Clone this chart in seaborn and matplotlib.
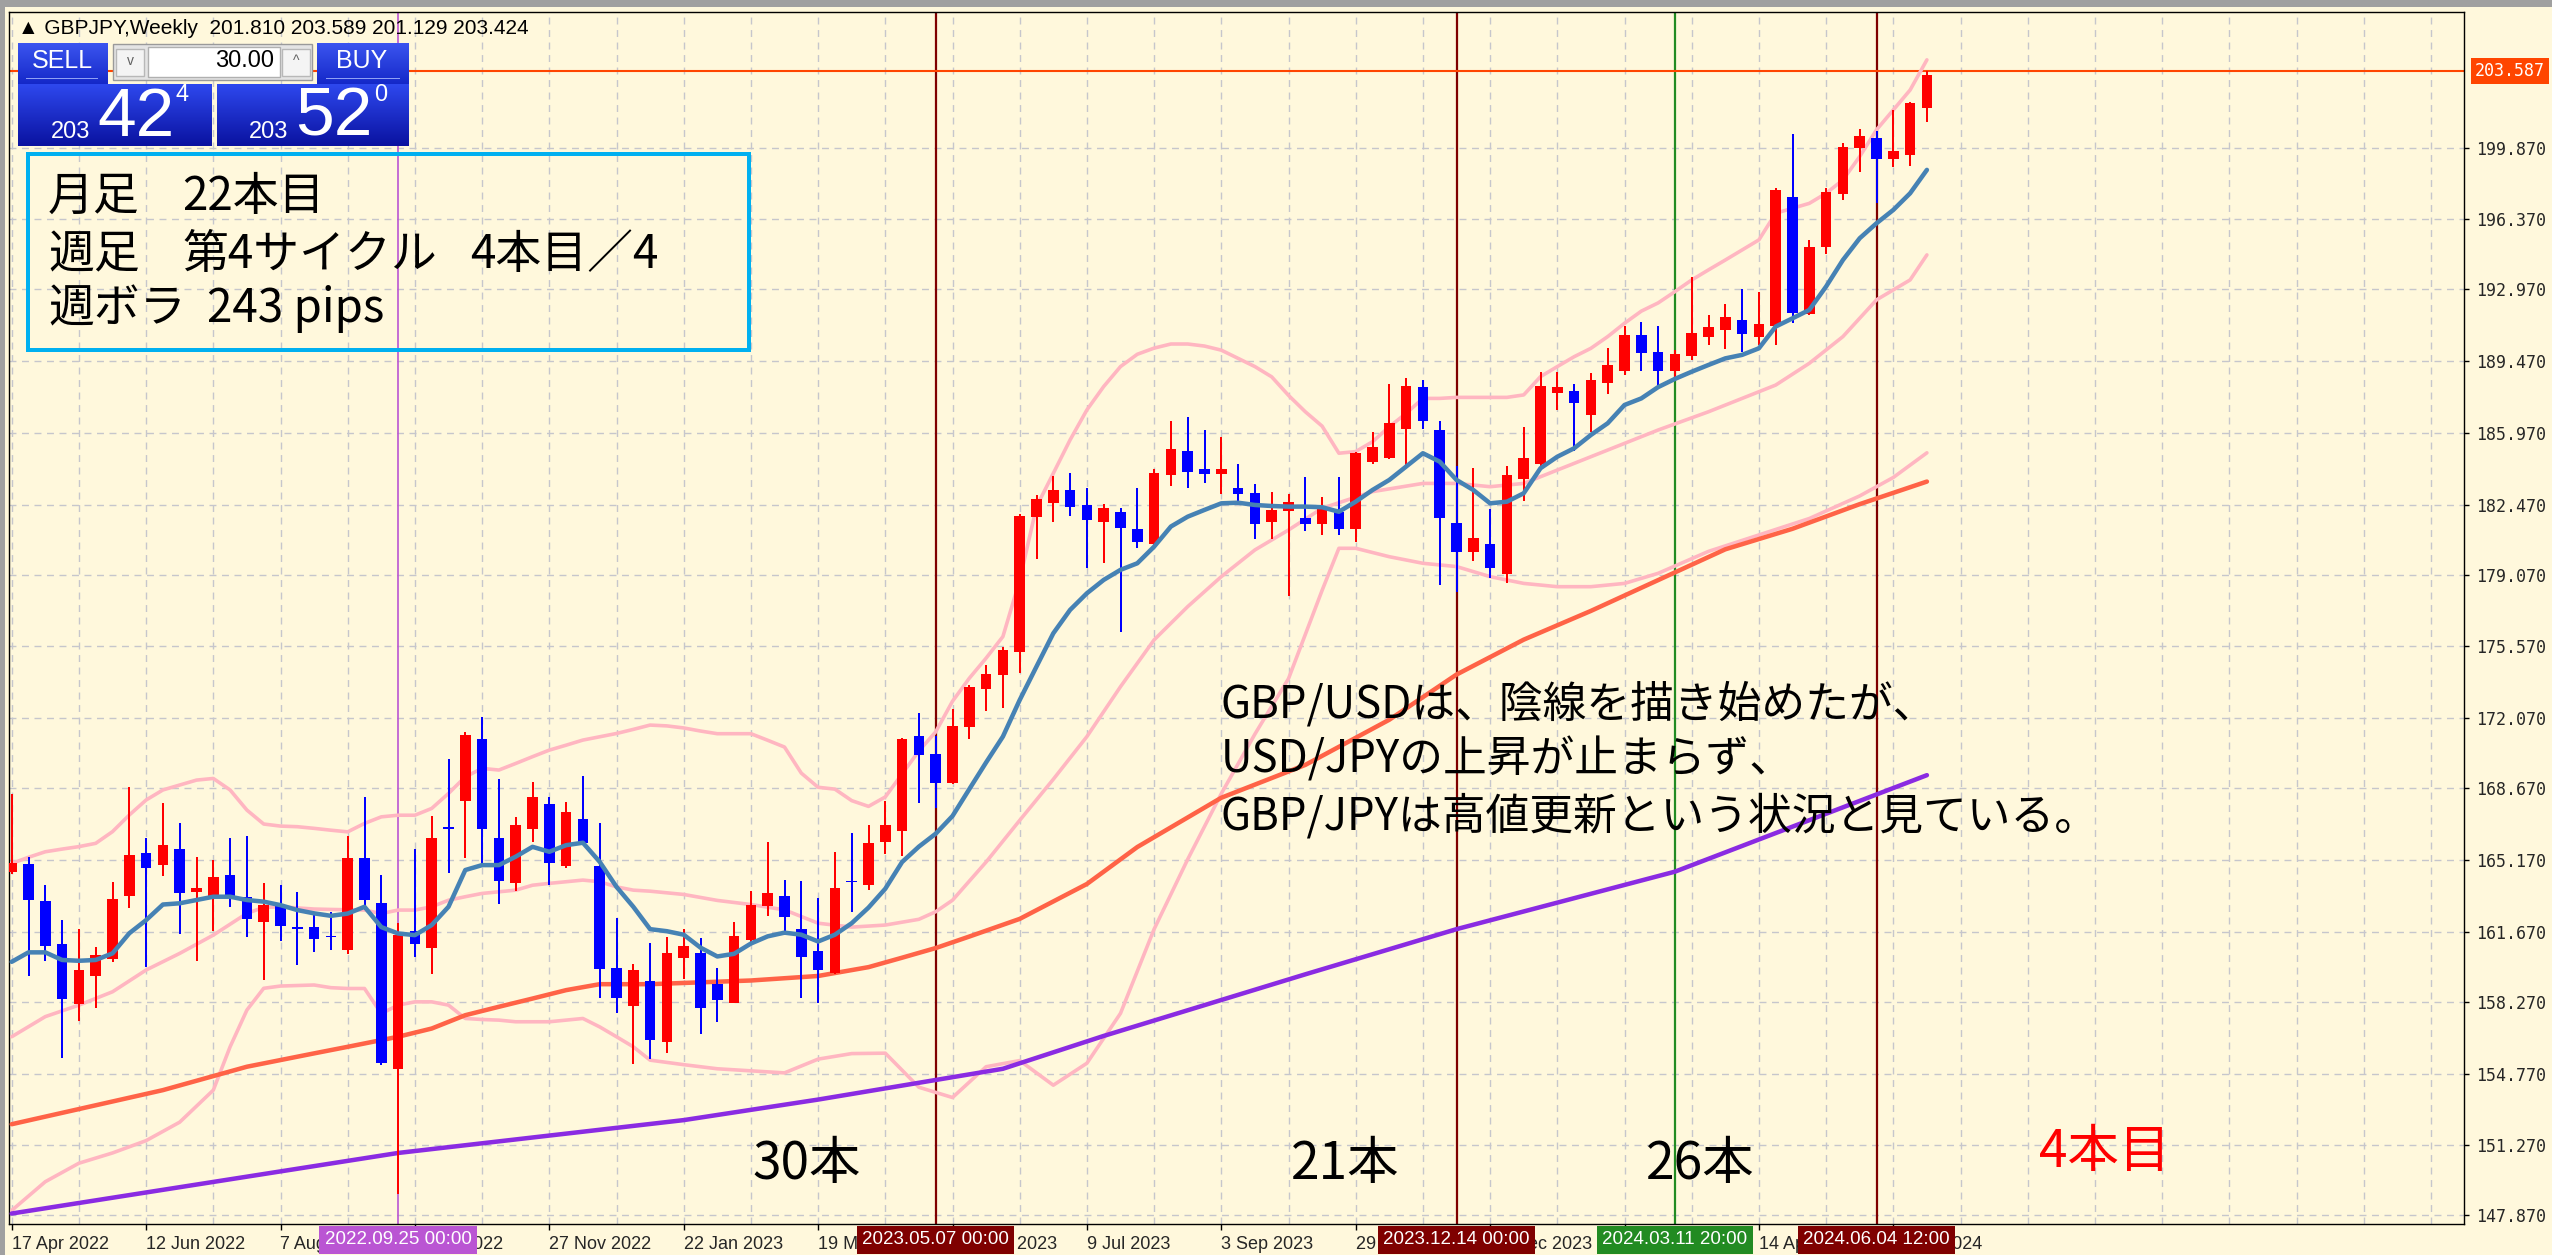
import numpy as np
import matplotlib
matplotlib.use("Agg")
import matplotlib.pyplot as plt
import matplotlib.transforms as mtransforms
from matplotlib.patches import Rectangle
from matplotlib import font_manager
import seaborn as sns

# ---------------- data ----------------
open_ = [164.6, 164.97, 163.19, 161.06, 158.15, 159.52, 160.33, 163.41, 165.49, 164.91,
         165.70, 163.62, 163.41, 164.44, 163.38, 162.16, 162.97, 161.90, 161.92, 161.48,
         160.78, 165.28, 163.08, 155.01, 161.72, 160.89, 166.78, 168.05, 171.06, 166.22,
         164.06, 166.67, 167.92, 164.89, 167.18, 164.87, 159.93, 158.05, 159.28, 156.30,
         160.38, 160.66, 159.15, 158.21, 161.25, 162.93, 163.40, 161.81, 160.75, 159.67,
         164.14, 163.96, 166.06, 166.60, 171.19, 170.33, 168.90, 171.64, 173.52, 174.18,
         175.32, 181.86, 182.58, 183.19, 182.45, 181.63, 182.12, 181.28, 180.55, 183.92,
         185.09, 184.23, 183.96, 183.27, 183.06, 181.63, 182.19, 181.81, 181.54, 182.13,
         181.29, 184.54, 184.73, 186.14, 188.22, 186.11, 181.60, 180.15, 180.54, 179.10,
         183.73, 184.44, 187.93, 188.03, 186.84, 188.39, 188.99, 190.74, 189.90, 189.00,
         189.72, 190.66, 190.98, 191.47, 190.66, 191.18, 197.48, 191.76, 195.01, 197.61,
         199.83, 200.32, 199.31, 199.51, 201.81]
high = [168.40, 165.30, 163.93, 162.24, 161.81, 160.95, 164.11, 168.74, 166.22, 167.93,
        166.95, 165.30, 165.17, 166.24, 166.34, 164.03, 163.93, 163.59, 162.65, 162.65,
        166.33, 168.25, 164.43, 162.11, 165.70, 167.31, 170.11, 171.38, 172.11, 169.09,
        167.27, 168.98, 168.25, 168.00, 169.27, 166.95, 162.32, 160.10, 161.15, 161.44,
        161.81, 161.38, 159.91, 162.13, 163.68, 166.04, 164.20, 164.14, 163.30, 165.54,
        166.47, 166.85, 168.06, 171.13, 172.35, 171.23, 172.53, 173.69, 174.68, 175.56,
        182.01, 182.95, 183.89, 184.00, 183.27, 182.51, 182.30, 183.27, 184.20, 186.55,
        186.76, 186.11, 185.79, 184.44, 183.48, 183.08, 182.98, 183.81, 182.87, 183.84,
        185.06, 186.03, 188.35, 188.63, 188.55, 186.55, 184.37, 184.24, 182.25, 184.37,
        186.24, 188.95, 188.95, 188.34, 188.87, 190.12, 191.18, 191.39, 191.18, 190.01,
        193.58, 191.72, 192.23, 192.97, 192.85, 197.88, 200.52, 195.37, 197.88, 200.11,
        200.76, 200.65, 201.70, 202.11, 203.589]
low = [164.50, 159.52, 160.26, 155.54, 157.34, 157.94, 160.20, 162.81, 159.97, 164.39,
       161.55, 160.26, 161.72, 162.89, 161.43, 159.32, 161.22, 160.05, 160.67, 160.78,
       160.58, 162.73, 155.20, 148.90, 160.45, 159.61, 164.55, 165.29, 165.00, 163.02,
       163.67, 166.06, 163.94, 164.80, 165.97, 158.47, 157.73, 155.23, 155.50, 155.75,
       159.39, 156.69, 157.28, 158.18, 161.16, 162.46, 161.53, 158.46, 158.18, 159.63,
       162.65, 163.73, 165.45, 165.35, 167.96, 167.68, 168.85, 171.08, 172.44, 172.56,
       174.26, 179.83, 181.62, 181.93, 179.41, 179.62, 176.26, 180.35, 180.50, 183.39,
       183.31, 183.52, 182.98, 182.46, 180.79, 180.79, 178.05, 181.21, 181.00, 181.00,
       180.67, 184.46, 184.68, 184.36, 186.14, 178.56, 178.24, 179.75, 178.89, 178.68,
       182.65, 184.37, 187.09, 185.11, 186.03, 187.87, 188.79, 189.00, 188.14, 188.60,
       189.52, 190.25, 190.04, 189.93, 190.25, 190.25, 191.31, 191.71, 194.69, 197.32,
       198.66, 197.15, 198.91, 198.97, 201.129]
close = [165.00, 163.22, 160.99, 158.38, 159.81, 160.54, 163.27, 165.41, 164.79, 165.91,
         163.54, 163.79, 164.32, 163.33, 162.28, 162.97, 161.95, 161.82, 161.30, 161.40,
         165.28, 163.21, 155.29, 161.51, 161.10, 166.25, 166.70, 171.28, 166.69, 164.16,
         166.85, 168.25, 165.00, 167.50, 166.01, 159.84, 158.47, 159.80, 156.39, 160.64,
         160.97, 157.95, 158.36, 161.48, 162.97, 163.58, 162.37, 160.45, 159.82, 163.81,
         164.10, 166.01, 166.85, 171.04, 170.29, 168.90, 171.69, 173.61, 174.21, 175.40,
         181.93, 182.75, 183.19, 182.38, 181.73, 182.33, 181.32, 180.68, 184.00, 185.17,
         184.05, 183.96, 184.23, 183.00, 181.54, 182.22, 182.62, 181.54, 182.33, 181.29,
         184.98, 185.30, 186.44, 188.26, 186.57, 181.84, 180.15, 180.84, 179.41, 183.92,
         184.76, 188.26, 188.22, 187.41, 188.55, 189.28, 190.74, 189.85, 189.00, 189.82,
         190.85, 191.11, 191.60, 190.79, 191.28, 197.80, 191.83, 195.04, 197.69, 199.91,
         200.43, 199.31, 199.70, 202.03, 203.424]

# fast moving average (steel blue), one value per bar
ma_fast = [160.21, 160.67, 160.67, 160.30, 160.26, 160.30, 160.62, 161.60, 162.24, 163.00,
           163.06, 163.22, 163.38, 163.38, 163.22, 163.14, 162.97, 162.73, 162.57, 162.45,
           162.56, 162.89, 161.90, 161.59, 161.51, 162.00, 162.89, 164.68, 164.92, 164.92,
           165.33, 165.81, 165.57, 165.89, 166.01, 165.08, 163.86, 162.89, 161.80, 161.70,
           161.53, 160.90, 160.47, 160.60, 161.10, 161.45, 161.63, 161.53, 161.20, 161.53,
           162.09, 162.85, 163.77, 165.07, 165.82, 166.45, 167.31, 168.62, 169.92, 171.18,
           172.96, 174.59, 176.21, 177.35, 178.16, 178.81, 179.30, 179.62, 180.43, 181.41,
           181.89, 182.22, 182.54, 182.57, 182.46, 182.41, 182.38, 182.38, 182.35, 182.13,
           182.62, 183.19, 183.68, 184.33, 184.98, 184.57, 183.68, 183.19, 182.54, 182.62,
           183.03, 184.25, 184.81, 185.22, 185.87, 186.44, 187.33, 187.65, 188.20, 188.60,
           188.95, 189.28, 189.60, 189.77, 190.09, 191.15, 191.55, 191.96, 193.10, 194.39,
           195.45, 196.18, 196.83, 197.64, 198.78]

bb_up = [165.00, 165.30, 165.57, 165.70, 165.82, 165.98, 166.55, 167.36, 168.09, 168.58,
         168.82, 169.06, 169.14, 168.58, 167.60, 166.92, 166.82, 166.79, 166.71, 166.62,
         166.54, 166.95, 167.27, 167.35, 167.35, 167.68, 168.41, 169.22, 169.63, 169.55,
         169.87, 170.20, 170.52, 170.76, 171.01, 171.17, 171.33, 171.53, 171.74, 171.70,
         171.60, 171.45, 171.32, 171.32, 171.32, 171.00, 170.67, 169.40, 168.71, 168.62,
         168.06, 167.78, 168.24, 169.36, 170.48, 171.41, 172.90, 174.02, 175.00, 176.05,
         178.80, 182.38, 184.00, 185.63, 187.09, 188.23, 189.20, 189.80, 190.10, 190.30,
         190.30, 190.20, 190.00, 189.60, 189.20, 188.70, 187.80, 187.00, 186.30, 184.98,
         185.06, 185.54, 186.27, 186.92, 187.65, 187.65, 187.70, 187.70, 187.70, 187.70,
         187.82, 188.71, 189.20, 189.68, 190.09, 190.66, 191.31, 191.90, 192.30, 192.85,
         193.42, 193.91, 194.39, 194.88, 195.37, 196.67, 196.91, 197.15, 197.64, 198.29,
         199.43, 200.73, 201.70, 202.67, 204.14]

bb_mid_idx = [0, 2, 4, 6, 8, 10, 12, 14, 15, 16, 18, 19, 21, 22, 23, 24, 25, 26, 27, 28,
              29, 30, 31, 32, 33, 34, 35, 36, 37, 38, 40, 42, 44, 46, 48, 50, 52, 54, 55,
              56, 57, 58, 60, 62, 64, 66, 68, 70, 72, 74, 76, 78, 81, 84, 86, 88, 90, 92,
              94, 96, 98, 101, 105, 107, 109, 111, 113, 114]
bb_mid = [156.56, 157.54, 158.10, 158.75, 159.81, 160.62, 161.51, 162.57, 162.86, 162.89,
          162.78, 162.76, 162.73, 162.56, 162.73, 162.73, 162.89, 163.21, 163.38, 163.54,
          163.62, 163.70, 163.94, 164.03, 164.11, 164.19, 164.11, 163.86, 163.70, 163.65,
          163.49, 163.20, 163.00, 162.74, 162.09, 161.90, 162.00, 162.28, 162.65, 163.21,
          164.14, 165.07, 167.10, 169.10, 171.18, 173.61, 175.89, 177.51, 178.97, 180.27,
          181.24, 182.30, 183.11, 183.51, 183.51, 183.35, 183.51, 184.16, 184.81, 185.46,
          186.11, 187.00, 188.30, 189.36, 190.66, 192.45, 193.42, 194.64]

bb_low_idx = [0, 2, 4, 6, 8, 10, 12, 13, 14, 15, 16, 18, 19, 20, 21, 22, 23, 24, 25, 26,
              27, 28, 29, 30, 32, 34, 35, 36, 37, 38, 40, 42, 44, 46, 48, 50, 52, 54, 56,
              58, 60, 62, 64, 66, 68, 70, 72, 74, 76, 78, 79, 80, 82, 84, 86, 88, 90, 92,
              94, 96, 98, 101, 104, 107, 110, 112, 114]
bb_low = [148.10, 149.50, 150.40, 150.90, 151.50, 152.40, 153.96, 156.07, 157.86, 158.92,
          159.03, 159.08, 158.95, 158.91, 158.91, 157.69, 158.10, 158.26, 158.26, 158.10,
          157.45, 157.40, 157.37, 157.29, 157.29, 157.45, 157.04, 156.56, 156.07, 155.42,
          155.20, 155.00, 154.90, 154.80, 155.47, 155.74, 155.76, 154.10, 153.60, 155.10,
          155.40, 154.20, 155.27, 157.70, 161.80, 165.20, 168.40, 171.30, 174.00, 178.30,
          180.35, 180.35, 179.94, 179.62, 179.46, 178.97, 178.64, 178.48, 178.48, 178.64,
          179.13, 180.20, 181.00, 181.80, 182.90, 183.80, 185.00]

ma_mid_idx = [0, 9, 14, 18, 20, 23, 25, 27, 29, 31, 33, 35, 38, 44, 48, 51, 53, 55, 57,
              60, 64, 67, 72, 77, 82, 86, 90, 94, 98, 102, 106, 110, 114]
ma_mid = [152.30, 153.96, 155.10, 155.75, 156.07, 156.56, 156.96, 157.61, 158.02, 158.42,
          158.83, 159.12, 159.12, 159.30, 159.52, 159.95, 160.41, 160.88, 161.44,
          162.30, 164.00, 165.80, 168.20, 169.80, 172.00, 174.20, 175.90, 177.30, 178.80,
          180.30, 181.30, 182.50, 183.60]

ma_slow_idx = [0, 23, 40, 48, 59, 65, 77, 86, 99, 114]
ma_slow = [147.95, 150.90, 152.50, 153.50, 155.00, 156.60, 159.60, 161.80, 164.60, 169.30]

xtick_idx = [0, 8, 16, 24, 32, 40, 48, 56, 64, 72, 80, 88, 96, 104, 112]
xtick_lab = ["17 Apr 2022", "12 Jun 2022", "7 Aug 2022", "2 Oct 2022", "27 Nov 2022",
             "22 Jan 2023", "19 Mar 2023", "14 May 2023", "9 Jul 2023", "3 Sep 2023",
             "29 Oct 2023", "24 Dec 2023", "18 Feb 2024", "14 Apr 2024", "9 Jun 2024"]
ytick_lab = ["199.870", "196.370", "192.970", "189.470", "185.970", "182.470", "179.070",
             "175.570", "172.070", "168.670", "165.170", "161.670", "158.270", "154.770",
             "151.270", "147.870"]

event_idx = [23, 55, 86, 99, 111]
event_lab = ["2022.09.25 00:00", "2023.05.07 00:00", "2023.12.14 00:00",
             "2024.03.11 20:00", "2024.06.04 12:00"]
event_col = ["#BA55D3", "#7F0000", "#7F0000", "#228B22", "#7F0000"]

count_idx = [47.3, 79.4, 100.5, 124.6]
count_lab = ["30本", "21本", "26本", "4本目"]
count_col = ["black", "black", "black", "#FF0000"]

price_line = 203.587
note_lines = ["GBP/USDは、陰線を描き始めたが、", "USD/JPYの上昇が止まらず、",
              "GBP/JPYは高値更新という状況と見ている。"]
# info box: each line is written as segments separated by wide gaps
info_segs = [["月足", "22本目"], ["週足", "第4サイクル", "4本目／4"], ["週ボラ", "243 pips"]]
header = "▲ GBPJPY,Weekly  201.810 203.589 201.129 203.424"

# ---------------- style ----------------
sns.set_theme(style="white")
avail = {f.name for f in font_manager.fontManager.ttflist}
NARROW = "Liberation Sans Narrow" if "Liberation Sans Narrow" in avail else "Liberation Sans"
plt.rcParams["font.family"] = ["Noto Sans CJK JP", "DejaVu Sans"]

BG = "#FFF8DC"
GRID = "#C6C6CC"
RED = "#FF0000"
BLUE = "#0000FF"
PINK = "#FFB6C1"
W, H = 2552, 1255
PT = 0.72  # points per pixel at dpi 100

fig = plt.figure(figsize=(W / 100, H / 100), dpi=100, facecolor=BG)
ax_l, ax_r, ax_t, ax_b = 9, 2464, 12, 1224
ax = fig.add_axes([ax_l / W, 1 - ax_b / H, (ax_r - ax_l) / W, (ax_b - ax_t) / H])
ax.set_facecolor(BG)

n = len(close)
idx = np.arange(n)
x_lo = (ax_l - 11.7) / 16.8
x_hi = (ax_r - 11.7) / 16.8
ax.set_xlim(x_lo, x_hi)
ax.set_ylim(147.44, 206.47)

# grid
yvals = [float(s) for s in ytick_lab]
for v in yvals:
    ax.axhline(v, color=GRID, lw=1.0, ls=(0, (5, 4)), zorder=0.5)
for g in range(0, int(x_hi) + 1, 4):
    ax.axvline(g, color=GRID, lw=1.0, ls=(0, (5, 4)), zorder=0.5)

# event lines and price line
for ei, ec in zip(event_idx, event_col):
    ax.axvline(ei, color=ec, lw=1.6 if ec != "#BA55D3" else 1.2, zorder=1.5)
ax.axhline(price_line, color="#FF4500", lw=1.5, zorder=1.5)

# indicator lines
sns.lineplot(x=list(range(n)), y=bb_up, ax=ax, color=PINK, lw=3.6 * PT, zorder=5,
             estimator=None, sort=False)
sns.lineplot(x=bb_mid_idx, y=bb_mid, ax=ax, color=PINK, lw=3.6 * PT, zorder=5,
             estimator=None, sort=False)
sns.lineplot(x=bb_low_idx, y=bb_low, ax=ax, color=PINK, lw=3.6 * PT, zorder=5,
             estimator=None, sort=False)
sns.lineplot(x=ma_mid_idx, y=ma_mid, ax=ax, color="#FF6347", lw=4.5 * PT, zorder=5,
             estimator=None, sort=False)
sns.lineplot(x=ma_slow_idx, y=ma_slow, ax=ax, color="#8A2BE2", lw=4.5 * PT, zorder=5,
             estimator=None, sort=False)

# candles
o = np.array(open_); c = np.array(close); hi = np.array(high); lo = np.array(low)
cols = np.where(c >= o, RED, BLUE)
ax.vlines(idx, lo, hi, colors=cols, lw=2 * PT, zorder=6)
body_b = np.minimum(o, c)
body_h = np.maximum(np.abs(c - o), 0.07)
ax.bar(idx, body_h, bottom=body_b, width=0.62, color=cols, linewidth=0, zorder=7)

sns.lineplot(x=list(range(n)), y=ma_fast, ax=ax, color="#4682B4", lw=4.5 * PT, zorder=8,
             estimator=None, sort=False)
ax.set_xlabel(""); ax.set_ylabel("")

# axes / ticks
for s in ax.spines.values():
    s.set_visible(True); s.set_color("black"); s.set_linewidth(1.0)
ax.set_xticks(xtick_idx)
ax.set_xticklabels(xtick_lab, ha="left", fontsize=13, family=[NARROW, "DejaVu Sans"])
ax.yaxis.tick_right()
ax.set_yticks(yvals)
ax.set_yticklabels(ytick_lab, fontsize=12, family=["DejaVu Sans Mono"])
ax.tick_params(axis="x", direction="out", length=6 * PT, width=1, color="black", pad=4,
               bottom=True)
ax.tick_params(axis="y", direction="out", length=5 * PT, width=1, color="black", pad=5,
               right=True, left=False)

# event label boxes on the time axis
tr_x = mtransforms.blended_transform_factory(ax.transData, ax.transAxes)
for ei, el, ec in zip(event_idx, event_lab, event_col):
    ax.text(ei, -16 / (ax_b - ax_t), el, transform=tr_x, ha="center", va="center",
            fontsize=13.5, color="white", family=[NARROW, "DejaVu Sans"], zorder=10,
            bbox=dict(boxstyle="square,pad=0.28", fc=ec, ec="none"), clip_on=False)

# price label on the price axis
tr_y = mtransforms.blended_transform_factory(ax.transAxes, ax.transData)
ax.text(1 + 46 / (ax_r - ax_l), price_line, "203.587", transform=tr_y, ha="center",
        va="center", fontsize=12, color="white", family=["DejaVu Sans Mono"], zorder=10,
        bbox=dict(boxstyle="square,pad=0.25", fc="#FF4500", ec="none"), clip_on=False)

# bar counts
for ci, cl, cc in zip(count_idx, count_lab, count_col):
    ax.text(ci, 150.36 if cl != "4本目" else 150.95, cl, ha="center", va="center",
            fontsize=37, color=cc, zorder=9)

# comment
for k, line in enumerate(note_lines):
    ax.text(71.98, [172.72, 170.04, 167.27][k], line, ha="left", va="center",
            fontsize=31.5, color="black", zorder=9)


def fx(x):
    return x / W


def fy(y):
    return 1 - y / H


# window strips
fig.add_artist(Rectangle((0, fy(7)), 1, 7 / H, transform=fig.transFigure,
                         fc="#A0A0A0", ec="none", zorder=20))
fig.add_artist(Rectangle((0, 0), 5 / W, 1, transform=fig.transFigure,
                         fc="#A0A0A0", ec="none", zorder=20))

# header
fig.text(fx(18), fy(29), header, fontsize=15, family=[NARROW, "DejaVu Sans"],
         ha="left", va="center", color="black", zorder=30)


# one-click trading panel
def grad_box(x0, y0, x1, y1, top, bot):
    a = fig.add_axes([fx(x0), fy(y1), (x1 - x0) / W, (y1 - y0) / H], zorder=25)
    t = np.array(matplotlib.colors.to_rgb(top)); b = np.array(matplotlib.colors.to_rgb(bot))
    g = np.linspace(0, 1, 64)[:, None, None]
    img = t * (1 - g) + b * g
    a.imshow(np.repeat(img, 2, axis=1), aspect="auto", extent=(0, 1, 0, 1))
    a.set_axis_off()
    return a


grad_box(18, 43, 107, 84, "#3C55F0", "#1428C8")
grad_box(317, 43, 409, 84, "#3C55F0", "#1428C8")
grad_box(18, 84, 212, 146, "#2E48EE", "#0A12A0")
grad_box(217, 84, 409, 146, "#2E48EE", "#0A12A0")
fig.add_artist(Rectangle((fx(113), fy(80)), 199 / W, 36 / H, transform=fig.transFigure,
                         fc="#E4E4E4", ec="#9A9A9A", lw=1, zorder=26))
fig.add_artist(Rectangle((fx(148), fy(77)), 132 / W, 30 / H, transform=fig.transFigure,
                         fc="white", ec="#B0B0B0", lw=1, zorder=27))
for bx in (116, 282):
    fig.add_artist(Rectangle((fx(bx), fy(76)), 28 / W, 27 / H, transform=fig.transFigure,
                             fc="#F4F4F4", ec="#B8B8B8", lw=1, zorder=27))
fig.add_artist(Rectangle((fx(26), fy(79)), 72 / W, 1.5 / H, transform=fig.transFigure,
                         fc="#8FA0F5", ec="none", zorder=28))
fig.add_artist(Rectangle((fx(326), fy(79)), 74 / W, 1.5 / H, transform=fig.transFigure,
                         fc="#8FA0F5", ec="none", zorder=28))
ptxt = dict(family=[NARROW, "DejaVu Sans"], zorder=30, va="center")
fig.text(fx(62), fy(61), "SELL", fontsize=18, color="white", ha="center", **ptxt)
fig.text(fx(362), fy(61), "BUY", fontsize=18, color="white", ha="center", **ptxt)
fig.text(fx(130), fy(61), "v", fontsize=10, color="#606060", ha="center", **ptxt)
fig.text(fx(296), fy(61), "^", fontsize=10, color="#606060", ha="center", **ptxt)
fig.text(fx(274), fy(61), "30.00", fontsize=17, color="black", ha="right", **ptxt)
fig.text(fx(71), fy(132), "203", fontsize=17, color="white", ha="center", **ptxt)
fig.text(fx(136), fy(118), "42", fontsize=50, color="white", ha="center", **ptxt)
fig.text(fx(182), fy(95), "4", fontsize=17, color="white", ha="center", **ptxt)
fig.text(fx(269), fy(132), "203", fontsize=17, color="white", ha="center", **ptxt)
fig.text(fx(334), fy(118), "52", fontsize=50, color="white", ha="center", **ptxt)
fig.text(fx(381), fy(95), "0", fontsize=17, color="white", ha="center", **ptxt)

# info box
fig.add_artist(Rectangle((fx(28), fy(350)), (749 - 28) / W, (350 - 154) / H,
                         transform=fig.transFigure, fc="none", ec="#00B0F0", lw=4 * PT,
                         zorder=30))
seg_x = [[48, 182], [48, 182, 470], [48, 207]]
seg_y = [197, 255, 309]
for segs, xs, yy in zip(info_segs, seg_x, seg_y):
    for s, xx in zip(segs, xs):
        fig.text(fx(xx), fy(yy), s, fontsize=33, color="black",
                 ha="left", va="center", zorder=31)

fig.savefig("out.png", dpi=100, facecolor=BG)
